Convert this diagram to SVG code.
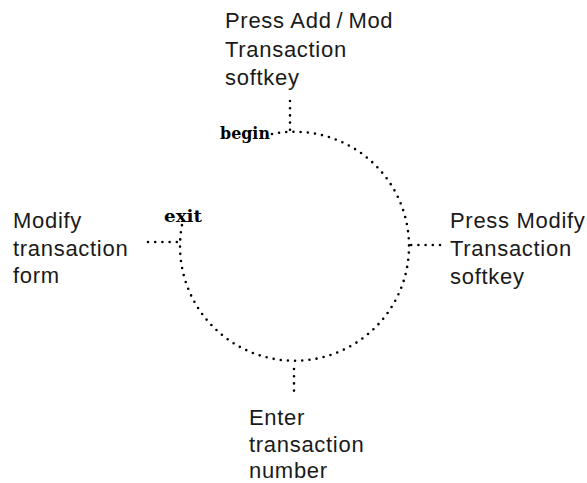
<svg xmlns="http://www.w3.org/2000/svg" width="587" height="483" viewBox="0 0 587 483">
<style>
.lbl{font-family:"Liberation Sans",Arial,sans-serif;font-size:22px;letter-spacing:0.7px;fill:#1a1a1a}
.mark{font-family:"DejaVu Serif","Liberation Serif",serif;font-weight:900;font-size:17px;fill:#000}
.dot{fill:none;stroke:#000;stroke-width:2.6;stroke-linecap:round;stroke-dasharray:0 7.2}
</style>
<rect width="587" height="483" fill="#fff"/>
<g id="connectors">
<path class="dot" d="M272,134 A114.5 114.5 0 1 1 182,225"/>
<path class="dot" d="M290,101 L290,130"/>
<path class="dot" d="M440,245 L410,245"/>
<path class="dot" d="M294,369 L294,394"/>
<path class="dot" d="M148,242 L178,242"/>
</g>
<g id="node-top">
<text class="lbl" x="225" y="28">Press Add<tspan dx="5">/</tspan><tspan dx="5">Mod</tspan></text>
<text class="lbl" x="225" y="57">Transaction</text>
<text class="lbl" x="225" y="85">softkey</text>
</g>
<g id="node-right">
<text class="lbl" x="450" y="228">Press Modify</text>
<text class="lbl" x="450" y="256">Transaction</text>
<text class="lbl" x="450" y="284">softkey</text>
</g>
<g id="node-bottom">
<text class="lbl" x="249" y="425">Enter</text>
<text class="lbl" x="249" y="452">transaction</text>
<text class="lbl" x="249" y="478">number</text>
</g>
<g id="node-left">
<text class="lbl" x="13" y="228">Modify</text>
<text class="lbl" x="13" y="256">transaction</text>
<text class="lbl" x="13" y="283">form</text>
</g>
<g id="begin">
<text class="mark" x="220" y="139" textLength="50" lengthAdjust="spacingAndGlyphs">begin</text>
</g>
<g id="exit">
<text class="mark" x="164" y="222" textLength="38" lengthAdjust="spacingAndGlyphs">exit</text>
</g>
</svg>
